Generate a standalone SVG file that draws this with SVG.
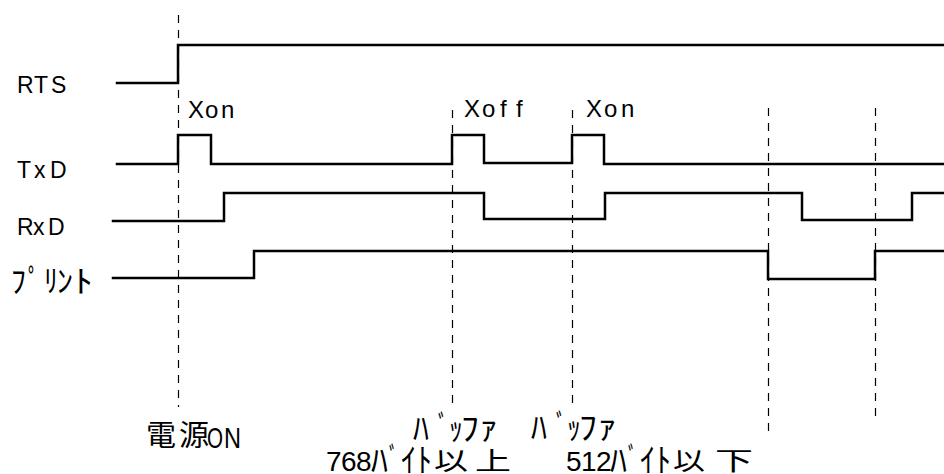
<svg xmlns="http://www.w3.org/2000/svg" width="944" height="474" viewBox="0 0 944 474">
<style>
.bg{fill:#fff}
.w{fill:none;stroke:#000;stroke-width:2.5;stroke-linejoin:miter;stroke-linecap:square}
.d{fill:none;stroke:#000;stroke-width:1.2;stroke-dasharray:8 7}
.L{font-family:"Liberation Sans","Noto Sans CJK JP",sans-serif;fill:#000}
.K{font-family:"Noto Sans CJK JP",sans-serif;fill:#000}
.s23{font-size:23px}
.s24{font-size:24px}
.s25{font-size:25px}
.s28{font-size:28px}
.s29{font-size:29px}
.s30{font-size:30px}
.s31{font-size:31px}
.s33{font-size:33px}
</style>
<rect class="bg" x="0" y="0" width="944" height="474"/>
<g id="markers">
<line class="d" x1="178.5" y1="15" x2="178.5" y2="407"/>
<line class="d" x1="452.5" y1="110" x2="452.5" y2="410"/>
<line class="d" x1="572.5" y1="110" x2="572.5" y2="410"/>
<line class="d" x1="768.5" y1="108" x2="768.5" y2="433"/>
<line class="d" x1="875.5" y1="108" x2="875.5" y2="423"/>
</g>
<g id="rts">
<text class="L s23" x="17 34 51" y="93">RTS</text>
<polyline class="w" points="117,83 178,83 178,45 944,45"/>
</g>
<g id="txd">
<text class="L s23" x="17 34 50" y="178">TxD</text>
<polyline class="w" points="117,164 178,164 178,135 211,135 211,164 452,164 452,135 484,135 484,163 572,163 572,135 604,135 604,164 944,164"/>
</g>
<g id="rxd">
<text class="L s23" x="17 33 48" y="235">RxD</text>
<polyline class="w" points="113,221 224,221 224,193 484,193 484,219 605,219 605,193 802,193 802,220 912,220 912,193 944,193"/>
</g>
<g id="print">
<text class="K s31" x="11" y="292" textLength="15" lengthAdjust="spacingAndGlyphs">ﾌ</text>
<text class="K s31" x="28" y="292" textLength="12" lengthAdjust="spacingAndGlyphs">ﾟ</text>
<text class="K s31" x="44" y="292" textLength="14" lengthAdjust="spacingAndGlyphs">ﾘ</text>
<text class="K s31" x="57" y="292" textLength="16" lengthAdjust="spacingAndGlyphs">ﾝ</text>
<text class="K s31" x="74" y="292" textLength="19" lengthAdjust="spacingAndGlyphs">ﾄ</text>
<polyline class="w" points="113,278 254,278 254,251 768,251 768,279 875,279 875,251 944,251"/>
</g>
<g id="xon1"><text class="L s24" x="188 205 221" y="118">Xon</text></g>
<g id="xoff"><text class="L s24" x="464 482 500 516" y="117">Xoff</text></g>
<g id="xon2"><text class="L s24" x="586 604 621" y="117">Xon</text></g>
<g id="power-on">
<text class="K s29" x="146" y="446" textLength="30" lengthAdjust="spacingAndGlyphs">電</text>
<text class="K s29" x="179" y="446" textLength="30" lengthAdjust="spacingAndGlyphs">源</text>
<text class="L s30" x="207" y="448" textLength="16" lengthAdjust="spacingAndGlyphs">O</text>
<text class="L s30" x="224" y="448" textLength="17" lengthAdjust="spacingAndGlyphs">N</text>
</g>
<g id="buffer-768">
<text class="K s33" x="413" y="440" textLength="16" lengthAdjust="spacingAndGlyphs">ﾊ</text>
<text class="K s33" x="438" y="440" textLength="10" lengthAdjust="spacingAndGlyphs">ﾞ</text>
<text class="K s33" x="449" y="440" textLength="14" lengthAdjust="spacingAndGlyphs">ｯ</text>
<text class="K s33" x="461" y="440" textLength="18" lengthAdjust="spacingAndGlyphs">ﾌ</text>
<text class="K s33" x="479" y="440" textLength="19" lengthAdjust="spacingAndGlyphs">ｧ</text>
<text class="L s28" x="326 341 356" y="471">768</text>
<text class="K s33" x="371" y="472" textLength="17" lengthAdjust="spacingAndGlyphs">ﾊ</text>
<text class="K s33" x="389" y="472" textLength="9" lengthAdjust="spacingAndGlyphs">ﾞ</text>
<text class="K s33" x="401" y="472" textLength="15" lengthAdjust="spacingAndGlyphs">ｲ</text>
<text class="K s33" x="417" y="472" textLength="15" lengthAdjust="spacingAndGlyphs">ﾄ</text>
<text class="K s25" x="434" y="470" textLength="34" lengthAdjust="spacingAndGlyphs">以</text>
<text class="K s25" x="475" y="470" textLength="36" lengthAdjust="spacingAndGlyphs">上</text>
</g>
<g id="buffer-512">
<text class="K s33" x="531" y="439" textLength="16" lengthAdjust="spacingAndGlyphs">ﾊ</text>
<text class="K s33" x="556" y="439" textLength="10" lengthAdjust="spacingAndGlyphs">ﾞ</text>
<text class="K s33" x="567" y="439" textLength="14" lengthAdjust="spacingAndGlyphs">ｯ</text>
<text class="K s33" x="579" y="439" textLength="18" lengthAdjust="spacingAndGlyphs">ﾌ</text>
<text class="K s33" x="597" y="439" textLength="20" lengthAdjust="spacingAndGlyphs">ｧ</text>
<text class="L s28" x="566 581 596" y="471">512</text>
<text class="K s33" x="610" y="472" textLength="17" lengthAdjust="spacingAndGlyphs">ﾊ</text>
<text class="K s33" x="628" y="472" textLength="9" lengthAdjust="spacingAndGlyphs">ﾞ</text>
<text class="K s33" x="640" y="472" textLength="15" lengthAdjust="spacingAndGlyphs">ｲ</text>
<text class="K s33" x="656" y="472" textLength="15" lengthAdjust="spacingAndGlyphs">ﾄ</text>
<text class="K s25" x="673" y="470" textLength="32" lengthAdjust="spacingAndGlyphs">以</text>
<text class="K s25" x="715" y="470" textLength="38" lengthAdjust="spacingAndGlyphs">下</text>
</g>
</svg>
